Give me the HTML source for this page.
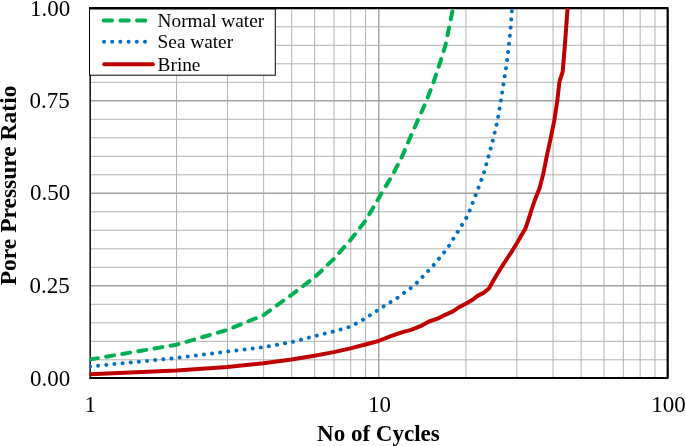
<!DOCTYPE html>
<html><head><meta charset="utf-8"><title>Pore Pressure Ratio vs No of Cycles</title>
<style>
html,body{margin:0;padding:0;background:#fff;}
body{width:685px;height:446px;overflow:hidden;position:relative;}
svg{display:block;position:absolute;left:0;top:0;}
text{font-family:"Liberation Serif","Times New Roman",serif;fill:#000;}
.tick{font-size:23px;}
.ttl{font-size:23px;font-weight:bold;}
.leg{font-size:19.3px;}
</style></head><body>
<svg width="685" height="446" viewBox="0 0 685 446">
<rect x="0" y="0" width="685" height="446" fill="#ffffff"/>
<g shape-rendering="auto">
<line x1="90" x2="668" y1="359.80" y2="359.80" stroke="#b2b2b2" stroke-width="1"/>
<line x1="90" x2="668" y1="341.30" y2="341.30" stroke="#b2b2b2" stroke-width="1"/>
<line x1="90" x2="668" y1="322.80" y2="322.80" stroke="#b2b2b2" stroke-width="1"/>
<line x1="90" x2="668" y1="304.30" y2="304.30" stroke="#b2b2b2" stroke-width="1"/>
<line x1="90" x2="668" y1="285.80" y2="285.80" stroke="#a2a2a2" stroke-width="1.4"/>
<line x1="90" x2="668" y1="267.30" y2="267.30" stroke="#b2b2b2" stroke-width="1"/>
<line x1="90" x2="668" y1="248.80" y2="248.80" stroke="#b2b2b2" stroke-width="1"/>
<line x1="90" x2="668" y1="230.30" y2="230.30" stroke="#b2b2b2" stroke-width="1"/>
<line x1="90" x2="668" y1="211.80" y2="211.80" stroke="#b2b2b2" stroke-width="1"/>
<line x1="90" x2="668" y1="193.30" y2="193.30" stroke="#a2a2a2" stroke-width="1.4"/>
<line x1="90" x2="668" y1="174.80" y2="174.80" stroke="#b2b2b2" stroke-width="1"/>
<line x1="90" x2="668" y1="156.30" y2="156.30" stroke="#b2b2b2" stroke-width="1"/>
<line x1="90" x2="668" y1="137.80" y2="137.80" stroke="#b2b2b2" stroke-width="1"/>
<line x1="90" x2="668" y1="119.30" y2="119.30" stroke="#b2b2b2" stroke-width="1"/>
<line x1="90" x2="668" y1="100.80" y2="100.80" stroke="#a2a2a2" stroke-width="1.4"/>
<line x1="90" x2="668" y1="82.30" y2="82.30" stroke="#b2b2b2" stroke-width="1"/>
<line x1="90" x2="668" y1="63.80" y2="63.80" stroke="#b2b2b2" stroke-width="1"/>
<line x1="90" x2="668" y1="45.30" y2="45.30" stroke="#b2b2b2" stroke-width="1"/>
<line x1="90" x2="668" y1="26.80" y2="26.80" stroke="#b2b2b2" stroke-width="1"/>
<line y1="8" y2="378" x1="176.52" x2="176.52" stroke="#b2b2b2" stroke-width="1"/>
<line y1="8" y2="378" x1="227.48" x2="227.48" stroke="#b2b2b2" stroke-width="1"/>
<line y1="8" y2="378" x1="263.64" x2="263.64" stroke="#b2b2b2" stroke-width="1"/>
<line y1="8" y2="378" x1="291.68" x2="291.68" stroke="#b2b2b2" stroke-width="1"/>
<line y1="8" y2="378" x1="314.60" x2="314.60" stroke="#b2b2b2" stroke-width="1"/>
<line y1="8" y2="378" x1="333.97" x2="333.97" stroke="#b2b2b2" stroke-width="1"/>
<line y1="8" y2="378" x1="350.75" x2="350.75" stroke="#b2b2b2" stroke-width="1"/>
<line y1="8" y2="378" x1="365.56" x2="365.56" stroke="#b2b2b2" stroke-width="1"/>
<line y1="8" y2="378" x1="378.80" x2="378.80" stroke="#a2a2a2" stroke-width="1.4"/>
<line y1="8" y2="378" x1="465.92" x2="465.92" stroke="#b2b2b2" stroke-width="1"/>
<line y1="8" y2="378" x1="516.88" x2="516.88" stroke="#b2b2b2" stroke-width="1"/>
<line y1="8" y2="378" x1="553.04" x2="553.04" stroke="#b2b2b2" stroke-width="1"/>
<line y1="8" y2="378" x1="581.08" x2="581.08" stroke="#b2b2b2" stroke-width="1"/>
<line y1="8" y2="378" x1="604.00" x2="604.00" stroke="#b2b2b2" stroke-width="1"/>
<line y1="8" y2="378" x1="623.37" x2="623.37" stroke="#b2b2b2" stroke-width="1"/>
<line y1="8" y2="378" x1="640.15" x2="640.15" stroke="#b2b2b2" stroke-width="1"/>
<line y1="8" y2="378" x1="654.96" x2="654.96" stroke="#b2b2b2" stroke-width="1"/>
</g>
<polyline points="89.4,8.1 667.7,8.1 667.7,378 89.4,378" fill="none" stroke="#000" stroke-width="2.2" stroke-linejoin="round"/>
<line x1="90.2" x2="90.2" y1="7" y2="379.1" stroke="#1c1c1c" stroke-width="1.6"/>
<clipPath id="pc"><rect x="89.4" y="7.6" width="600" height="440"/></clipPath>
<g fill="none" stroke-linecap="round" stroke-linejoin="round" clip-path="url(#pc)">
<polyline points="90.0,359.5 176.5,344.7 227.4,329.9 263.5,315.1 291.5,294.8 314.4,277.5 333.7,259.0 350.5,240.0 365.3,221.0 378.5,198.5 381.7,193.0 392.8,174.5 402.3,156.0 410.2,137.5 418.4,119.0 426.6,100.5 433.6,82.0 439.8,63.5 445.5,45.0 449.3,26.5 452.4,11.4" stroke="#00b050" stroke-width="4" stroke-dasharray="8.0 8.352"/>
<polyline points="90.0,366.5 176.5,358.0 227.4,351.5 263.5,347.3 291.5,342.1 314.4,336.2 333.7,331.4 350.5,326.6 365.3,318.4 378.5,309.6 397.3,297.9 414.2,285.5 432.0,267.0 447.4,248.5 458.8,230.0 466.0,218.5 469.3,211.5 476.5,193.0 483.4,174.5 488.6,156.0 493.6,137.5 497.8,119.0 500.9,100.5 503.8,82.0 506.7,63.5 508.9,45.0 510.8,26.5 511.8,11.2" stroke="#0070c0" stroke-width="4" stroke-dasharray="0.01 8.175"/>
<polyline points="90.0,374.3 176.5,370.6 227.4,366.9 263.5,363.2 291.5,359.5 314.4,355.8 333.7,352.1 350.5,348.4 365.3,344.5 378.5,341.0 390.8,336.2 401.7,332.4 411.1,329.9 420.5,326.2 429.1,321.5 437.6,318.6 445.2,314.8 452.8,311.4 458.5,307.6 466.1,303.5 472.7,299.7 477.5,295.9 484.1,292.6 488.9,288.4 493.1,281.0 497.1,274.2 501.7,266.8 506.5,259.5 511.9,251.3 516.7,243.5 521.3,235.5 525.3,228.8 528.2,220.4 531.2,210.8 534.8,200.2 537.6,193.0 539.4,188.8 543.3,173.7 546.8,156.2 550.6,138.7 554.4,119.8 557.3,100.8 559.4,81.9 562.7,71.7 564.9,45.0 567.5,9.5" stroke="#c00000" stroke-width="4"/>
</g>
<rect x="89.5" y="8" width="185.8" height="67.2" fill="#fff" stroke="#000" stroke-width="1"/>
<line x1="89" x2="276" y1="8.25" y2="8.25" stroke="#000" stroke-width="2.7"/>
<g fill="none" stroke-linecap="round">
<line x1="103.8" x2="153" y1="20.4" y2="20.4" stroke="#00b050" stroke-width="4" stroke-dasharray="8.3 8.3"/>
<line x1="104" x2="153" y1="41.8" y2="41.8" stroke="#0070c0" stroke-width="4" stroke-dasharray="0.01 8.19"/>
<line x1="104.2" x2="152.8" y1="64.3" y2="64.3" stroke="#c00000" stroke-width="4"/>
</g>
<text class="leg" x="157.6" y="26.6">Normal water</text>
<text class="leg" x="157.6" y="47.9">Sea water</text>
<text class="leg" x="157.6" y="70.7">Brine</text>
<g class="tick" text-anchor="end">
<text transform="translate(70.3,15.6) scale(1,1.035)">1.00</text>
<text transform="translate(69.7,107.7) scale(1,1.035)">0.75</text>
<text transform="translate(70.3,200.4) scale(1,1.035)">0.50</text>
<text transform="translate(69.7,292.9) scale(1,1.035)">0.25</text>
<text transform="translate(70.3,385.6) scale(1,1.035)">0.00</text>
</g>
<g class="tick" text-anchor="middle">
<text transform="translate(90.2,412.4) scale(1,1.035)">1</text>
<text transform="translate(379.6,412.3) scale(1,1.035)">10</text>
<text transform="translate(668.6,412.3) scale(1,1.035)">100</text>
</g>
<text class="ttl" text-anchor="middle" x="378.4" y="440.8">No of Cycles</text>
<text class="ttl" style="font-size:23.5px" text-anchor="middle" transform="translate(15.8,185.4) rotate(-90)">Pore Pressure Ratio</text>
</svg>
</body></html>
